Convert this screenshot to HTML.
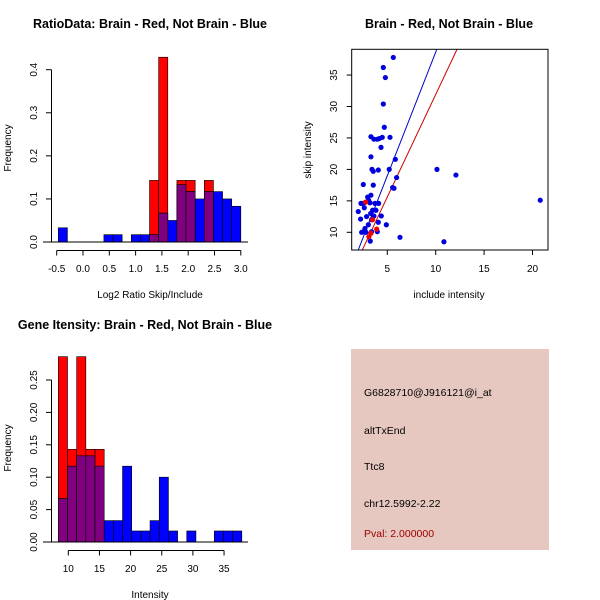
<!DOCTYPE html>
<html><head><meta charset="utf-8"><style>
body{margin:0;background:#fff}
svg{display:block;font-family:"Liberation Sans",sans-serif}
</style></head><body>
<svg id="c" width="600" height="600" viewBox="0 0 600 600">
<rect width="600" height="600" fill="#fff"/>
<text x="150" y="28" text-anchor="middle" font-size="12.5" font-weight="bold">RatioData: Brain - Red, Not Brain - Blue</text>
<text x="449" y="28" text-anchor="middle" font-size="12.5" font-weight="bold">Brain - Red, Not Brain - Blue</text>
<text x="145" y="329" text-anchor="middle" font-size="12.5" font-weight="bold">Gene Itensity: Brain - Red, Not Brain - Blue</text>
<text x="150" y="298" text-anchor="middle" font-size="10">Log2 Ratio Skip/Include</text>
<text x="150" y="598" text-anchor="middle" font-size="10">Intensity</text>
<text x="449" y="298" text-anchor="middle" font-size="10">include intensity</text>
<text transform="translate(11,148) rotate(-90)" text-anchor="middle" font-size="10">Frequency</text>
<text transform="translate(11,448) rotate(-90)" text-anchor="middle" font-size="10">Frequency</text>
<text transform="translate(311,150) rotate(-90)" text-anchor="middle" font-size="10">skip intensity</text>
<g>
<rect x="351" y="349" width="198" height="201" fill="#e6c8c1"/>
<text x="364" y="396" font-size="10.5">G6828710@J916121@i_at</text>
<text x="364" y="434" font-size="10.5">altTxEnd</text>
<text x="364" y="470" font-size="10.5">Ttc8</text>
<text x="364" y="507" font-size="10.5">chr12.5992-2.22</text>
<text x="364" y="537" font-size="10.5" fill="#a00000">Pval: 2.000000</text>
</g>
<g id="g1"></g>
<g id="g2"></g>
<g id="g3"></g>
</svg>
<script>
// Ratio histogram
const ratioStart = -0.47, ratioWidth = 0.1735;
const ratioBlue = [0.033,0,0,0,0,0.017,0.017,0,0.017,0.017,0.017,0.067,0.05,0.133,0.117,0.1,0.117,0.117,0.1,0.083];
const ratioRed = [0,0,0,0,0,0,0,0,0,0,0.143,0.429,0,0.143,0.143,0,0.143,0,0,0];
const ratioXTicks = ["-0.5","0.0","0.5","1.0","1.5","2.0","2.5","3.0"];
const ratioYTicks = ["0.0","0.1","0.2","0.3","0.4"];
// Intensity histogram
const intStart = 8.4, intWidth = 1.4725;
const intBlue = [0.067,0.117,0.133,0.133,0.117,0.033,0.033,0.117,0.017,0.017,0.033,0.1,0.017,0,0.017,0,0,0.017,0.017,0.017];
const intRed = [0.286,0.143,0.286,0.143,0.143,0,0,0,0,0,0,0,0,0,0,0,0,0,0,0];
const intXTicks = ["10","15","20","25","30","35"];
const intYTicks = ["0.00","0.05","0.10","0.15","0.20","0.25"];
// Scatter
const scatterX = [5.62,4.59,4.8,4.59,4.69,3.31,3.62,3.97,4.17,4.48,5.28,4.35,3.31,5.83,3.42,3.55,4.07,5.2,10.13,12.09,5.96,5.69,2.52,3.55,3.31,2.97,3.07,2.28,2.52,3.21,3.73,4.1,2.62,2.0,3.48,3.83,3.28,2.86,3.62,4.38,2.24,3.38,3.04,4.07,4.9,2.69,2.52,2.8,3.38,3.97,6.31,3.24,10.85,2.35,20.8,5.55];
const scatterY = [37.8,36.2,34.6,30.4,26.7,25.2,24.8,24.8,24.9,25.1,25.1,23.5,22.0,21.6,20.0,19.7,19.9,20.0,20.0,19.1,18.7,17.0,17.6,17.5,15.9,15.6,15.1,14.6,14.6,14.7,14.6,14.6,13.9,13.3,13.5,13.5,13.0,12.5,12.6,12.6,12.1,12.0,11.2,11.6,11.2,10.6,10.1,10.0,10.1,10.1,9.2,8.6,8.5,10.0,15.1,17.1];
const redX = [2.76,3.48,3.9,3.31,3.1];
const redY = [14.8,12.0,10.5,9.85,9.3];
const lineBlue = [-0.66,3.93]; // intercept, slope
const lineRed = [-0.69,3.26];
const scXTicks = ["5","10","15","20"];
const scYTicks = ["10","15","20","25","30","35"];

const NS="http://www.w3.org/2000/svg";
function mk(p,t,a){const e=document.createElementNS(NS,t);for(const k in a)e.setAttribute(k,a[k]);p.appendChild(e);return e;}

function hist(g,start,w,blue,red,xs,xt,yt,baseY,yTop,yTopVal,xLabelY){
  const sx=v=>xs[0]+(v-xs[1])*xs[2];
  const sy=v=>baseY-(v/yTopVal)*(baseY-yTop);
  for(let i=0;i<blue.length;i++){
    const x0=sx(start+i*w),x1=sx(start+(i+1)*w);
    const r=red[i],b=blue[i];
    if(r>0){const e=mk(g,'rect',{x:x0,y:sy(r),width:x1-x0,height:sy(0)-sy(r),fill:'#ff0000',stroke:'#000','stroke-width':0.6});
      }
    if(b>0){const e=mk(g,'rect',{x:x0,y:sy(b),width:x1-x0,height:sy(0)-sy(b),fill:'#0000ff',stroke:'#000','stroke-width':0.6});
      }
    if(r>0&&b>0){const m=Math.min(r,b);const e=mk(g,'rect',{x:x0,y:sy(m),width:x1-x0,height:sy(0)-sy(m),fill:'#800080',stroke:'#000','stroke-width':0.6});
      }
  }
  mk(g,'line',{x1:43,x2:248,y1:baseY,y2:baseY,stroke:'#000'});
  const yv=yt.map(Number);
  mk(g,'line',{x1:51.5,x2:51.5,y1:sy(yv[0]),y2:sy(yv[yv.length-1]),stroke:'#000'});
  yt.forEach((t,i)=>{const y=sy(yv[i]);mk(g,'line',{x1:46,x2:51.5,y1:y,y2:y,stroke:'#000'});
    const e=mk(g,'text',{transform:`translate(37,${y}) rotate(-90)`,'text-anchor':'middle','font-size':10});e.textContent=t;
    });
  const xv=xt.map(Number);const ax=baseY+8.5;
  mk(g,'line',{x1:sx(xv[0]),x2:sx(xv[xv.length-1]),y1:ax,y2:ax,stroke:'#000'});
  xt.forEach((t,i)=>{const x=sx(xv[i]);mk(g,'line',{x1:x,x2:x,y1:ax,y2:ax+5,stroke:'#000'});
    const e=mk(g,'text',{x:x,y:xLabelY,'text-anchor':'middle','font-size':10});e.textContent=t;
    });
}
hist(document.getElementById('g1'),ratioStart,ratioWidth,ratioBlue,ratioRed,[56.7,-0.5,52.6],ratioXTicks,ratioYTicks,242,69.7,0.4,272);
hist(document.getElementById('g3'),intStart,intWidth,intBlue,intRed,[68.3,10,6.23],intXTicks,intYTicks,542,380,0.25,572);

(function(){
  const g=document.getElementById('g2');
  const L=351.7,R=548,T=49.3,B=250;
  const sx=v=>387.3+(v-5)*9.68, sy=v=>232.3-(v-10)*6.29;
  const cp=mk(g,'clipPath',{id:'clp'});mk(cp,'rect',{x:L,y:T,width:R-L,height:B-T});
  const lg=mk(g,'g',{'clip-path':'url(#clp)'});
  [[lineBlue,'#0000cc','blue-fit-line'],[lineRed,'#cc0000','red-fit-line']].forEach(([p,c,n])=>{
    const x0=1,x1=22;const e=mk(lg,'line',{x1:sx(x0),y1:sy(p[0]+p[1]*x0),x2:sx(x1),y2:sy(p[0]+p[1]*x1),stroke:c,'stroke-width':1});
    });
  scatterX.forEach((x,i)=>{const e=mk(g,'circle',{cx:sx(x),cy:sy(scatterY[i]),r:2.6,fill:'#0000dd'});
    });
  redX.forEach((x,i)=>{const e=mk(g,'circle',{cx:sx(x),cy:sy(redY[i]),r:2.6,fill:'#ee0000'});
    });
  mk(g,'rect',{x:L,y:T,width:R-L,height:B-T,fill:'none',stroke:'#000'});
  scXTicks.forEach(t=>{const x=sx(+t);mk(g,'line',{x1:x,x2:x,y1:B,y2:B+5,stroke:'#000'});
    const e=mk(g,'text',{x:x,y:272,'text-anchor':'middle','font-size':10});e.textContent=t;
    });
  scYTicks.forEach(t=>{const y=sy(+t);mk(g,'line',{x1:L-5,x2:L,y1:y,y2:y,stroke:'#000'});
    const e=mk(g,'text',{transform:`translate(337,${y}) rotate(-90)`,'text-anchor':'middle','font-size':10});e.textContent=t;
    });
})();
</script>
</body></html>
